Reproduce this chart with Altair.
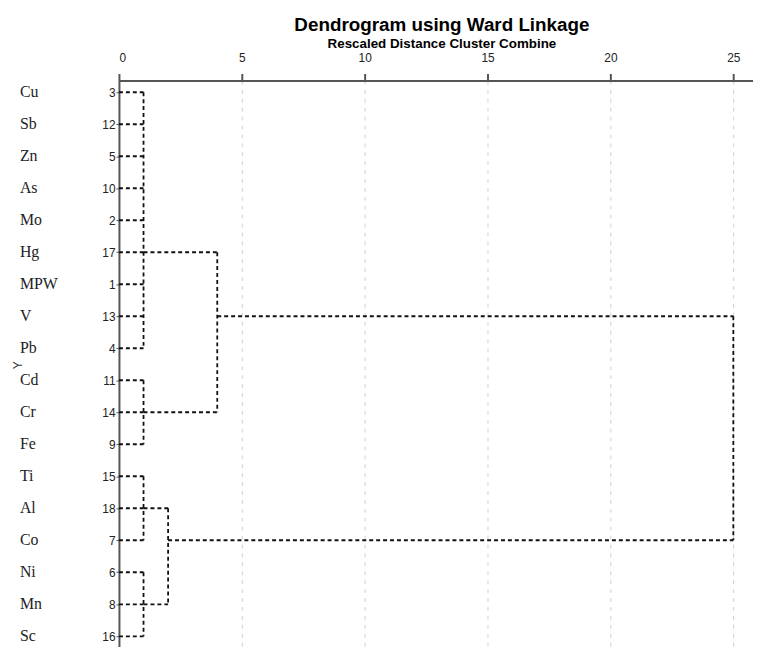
import altair as alt
import pandas as pd

# ---- data ----
leaf_names = ["Cu", "Sb", "Zn", "As", "Mo", "Hg", "MPW", "V", "Pb",
              "Cd", "Cr", "Fe", "Ti", "Al", "Co", "Ni", "Mn", "Sc"]
case_ids = [3, 12, 5, 10, 2, 17, 1, 13, 4, 11, 14, 9, 15, 18, 7, 6, 8, 16]

# first-level clusters (rows in display order) and the rescaled distance where they join
cluster_first_row = [0, 9, 12, 15]
cluster_last_row = [8, 11, 14, 17]
cluster_height = [1.0, 1.0, 1.0, 1.0]

# higher joins: row/height of left and right branch, join height
join_left_row = [5, 13, 7]
join_left_height = [1.0, 1.0, 4.0]
join_right_row = [10, 16, 14]
join_right_height = [1.0, 1.0, 2.0]
join_height = [4.0, 2.0, 25.0]

x_ticks = [0, 5, 10, 15, 20, 25]

# ---- build segments ----
segs = []
for s, e, h in zip(cluster_first_row, cluster_last_row, cluster_height):
    for r in range(s, e + 1):
        segs.append({"x": 0.0, "x2": h, "y": r, "y2": r})
    segs.append({"x": h, "x2": h, "y": s, "y2": e})
for lr, lh, rr, rh, jh in zip(join_left_row, join_left_height, join_right_row,
                              join_right_height, join_height):
    segs.append({"x": lh, "x2": jh, "y": lr, "y2": lr})
    segs.append({"x": rh, "x2": jh, "y": rr, "y2": rr})
    segs.append({"x": jh, "x2": jh, "y": lr, "y2": rr})
seg_df = pd.DataFrame(segs)

leaf_df = pd.DataFrame({"row": list(range(len(leaf_names))), "name": leaf_names})

label_arr = "[" + ",".join("'%d'" % c for c in case_ids) + "]"

x_scale = alt.Scale(domain=[0, 25.8], nice=False, zero=False)
y_scale = alt.Scale(domain=[-0.37, 17.74], nice=False, zero=False, reverse=True)

x_axis = alt.Axis(orient="top", values=x_ticks, title=None, grid=True,
                  gridDash=[4, 5], gridColor="#cfcfcf", gridWidth=1,
                  domainColor="#555555", domainWidth=2, tickColor="#555555",
                  tickWidth=2, tickSize=7, labelPadding=9, labelFontSize=12,
                  labelFont="Liberation Sans", labelColor="#222222",
                  labelOverlap=False)
y_axis = alt.Axis(values=list(range(len(case_ids))), labelExpr=label_arr + "[datum.value]",
                  title="Y", titleX=-102, titleY=287, titleFontSize=12,
                  titleFontWeight="normal", titleFont="Liberation Sans", titleColor="#333333",
                  titleAngle=270, titleAlign="center", titleBaseline="middle",
                  grid=False, domainColor="#555555", domainWidth=2,
                  tickColor="#555555", tickSize=3, tickWidth=1, labelPadding=1,
                  labelFontSize=12, labelFont="Liberation Sans", labelColor="#222222",
                  labelOverlap=False, labelFlush=False)

lines = alt.Chart(seg_df).mark_rule(
    color="#111111", strokeWidth=1.8, strokeDash=[4, 3]
).encode(
    x=alt.X("x:Q", scale=x_scale, axis=x_axis),
    x2="x2:Q",
    y=alt.Y("y:Q", scale=y_scale, axis=y_axis),
    y2="y2:Q",
)

names = alt.Chart(leaf_df).mark_text(
    align="left", baseline="middle", font="Liberation Serif", fontSize=16,
    color="#222222", clip=False
).encode(
    x=alt.value(-100),
    y=alt.Y("row:Q", scale=y_scale, axis=y_axis),
    text="name:N",
)

chart = alt.layer(lines, names).properties(
    width=640, height=585,
    autosize=alt.AutoSizeParams(type="none"),
    padding={"left": 112, "top": 70, "right": 0, "bottom": 0},
    title=alt.TitleParams(
        text="Dendrogram using Ward Linkage",
        subtitle="Rescaled Distance Cluster Combine",
        font="Liberation Sans", fontSize=19, fontWeight="bold", color="#000000",
        subtitleFont="Liberation Sans", subtitleFontSize=13.5,
        subtitleFontWeight="bold", subtitleColor="#000000", subtitlePadding=2,
        anchor="middle", offset=1, dx=6,
    ),
).configure_view(stroke=None)

chart.save("out.html", embed_options={"renderer": "svg", "actions": False})
